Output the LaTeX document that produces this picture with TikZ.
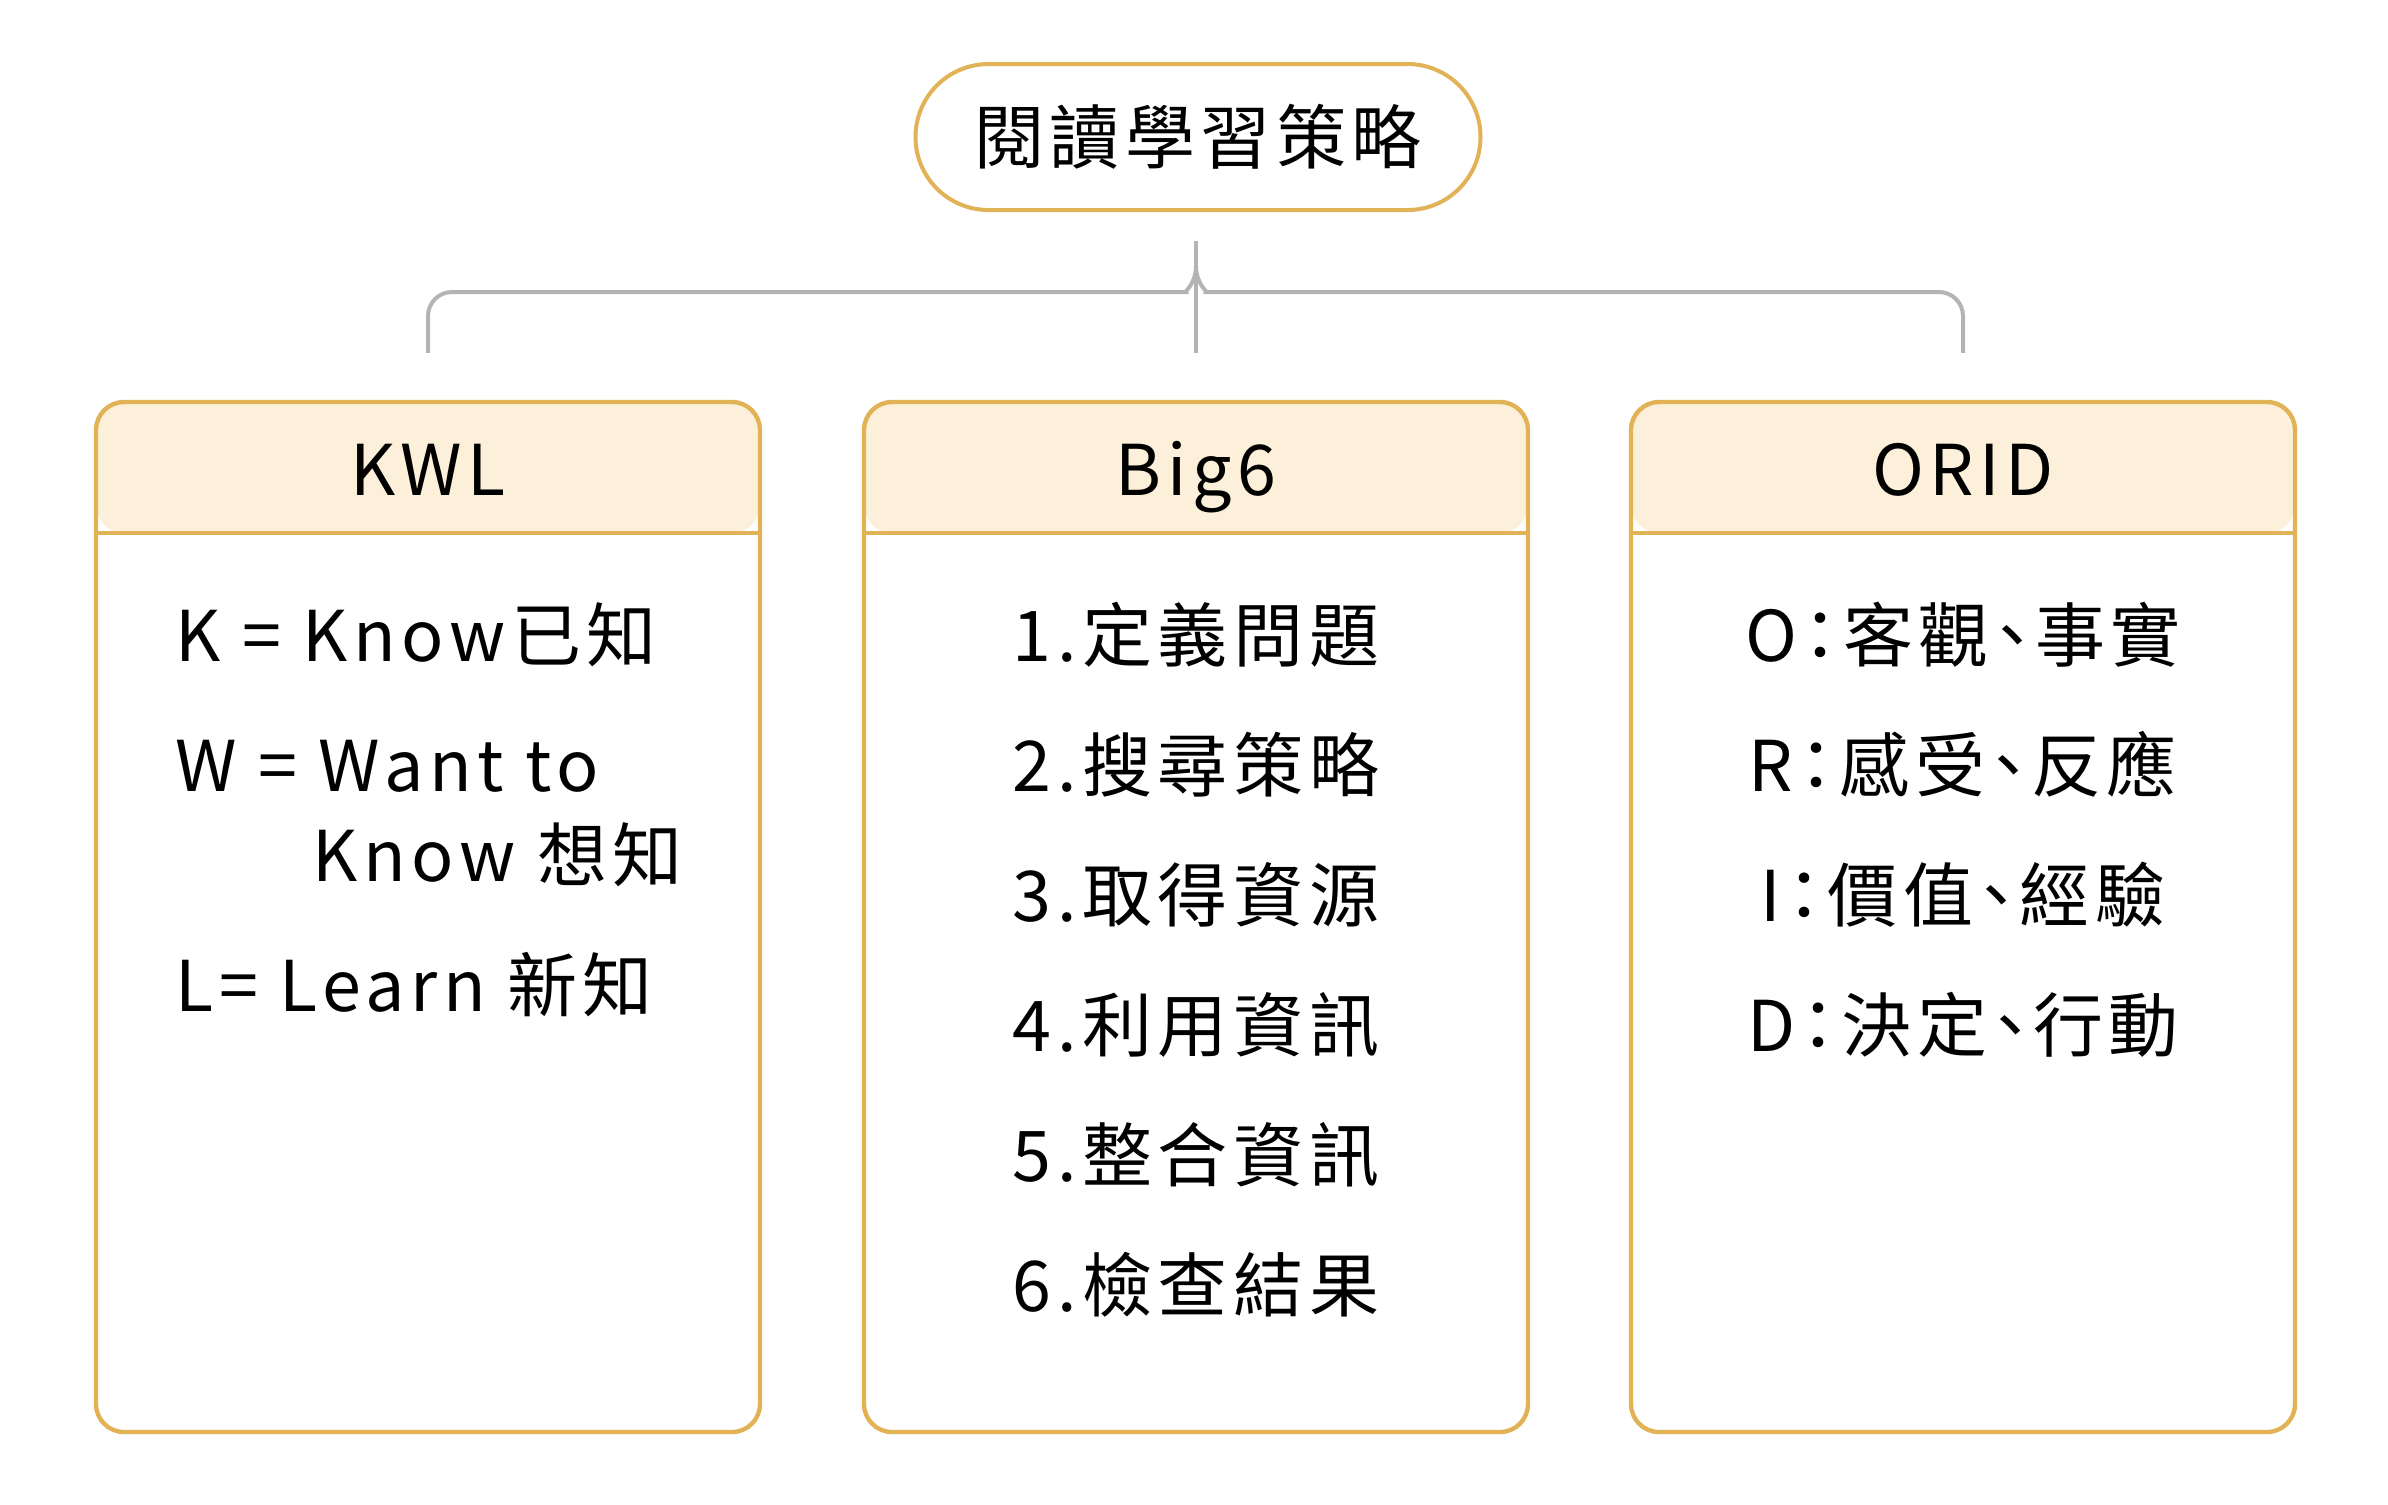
\documentclass[tikz,border=0pt]{standalone}
\usepackage{fontspec}
\setmainfont{Noto Sans CJK TC}[LetterSpace=8]
\newfontfamily\halffont{Noto Sans CJK TC}[LetterSpace=8, RawFeature=+halt]
\usetikzlibrary{calc}
\definecolor{gold}{HTML}{E2B257}
\definecolor{hdrfill}{HTML}{FDF0DA}
\definecolor{conn}{HTML}{B4B4B4}
\begin{document}
\begin{tikzpicture}[x=1pt,y=-1pt,
  txt/.style={font=\fontsize{17.5pt}{20pt}\selectfont, inner sep=0pt},
  htxt/.style={font=\fontsize{17.5pt}{20pt}\halffont, inner sep=0pt},
  pill/.style={draw=gold, line width=1pt, rounded corners=18.25pt,
    minimum width=141.25pt, minimum height=36.5pt, inner sep=0pt},
  panel/.style={draw=gold, line width=1.1pt, rounded corners=7pt,
    minimum width=166pt, minimum height=257.5pt, inner sep=0pt,
    path picture={
      \fill[hdrfill] (path picture bounding box.north west) rectangle
        ([yshift=-32.75pt]path picture bounding box.north east);
      \draw[gold, line width=1.1pt]
        ([yshift=-32.75pt]path picture bounding box.north west) --
        ([yshift=-32.75pt]path picture bounding box.north east);
    }},
  link/.style={draw=conn, line width=1pt}]
\useasboundingbox (0,0) rectangle (597,376);

\node[pill, txt] (title) at (299.5,34.25) {閱讀學習策略};

\node[panel] (kwl) at (107,229.25) {};
\node[panel] (big) at (299,229.25) {};
\node[panel] (orid) at (490.75,229.25) {};

\node[txt, anchor=base] (kwlh) at ($(kwl.north)+(0,23.8)$) {KWL};
\node[txt, anchor=base] (bigh) at ($(big.north)+(0,23.8)$) {Big6};
\node[txt, anchor=base] (oridh) at ($(orid.north)+(0,23.8)$) {ORID};

% connectors
\coordinate (stemtop) at ($(title.south -| big.north)+(0,7.25)$);
\coordinate (hub) at ($(stemtop)+(0,12.75)$);
\draw[link] (stemtop) -- ($(big.north)+(0,-11.75)$);
\draw[link] ($(kwl.north)+(0,-11.75)$) [rounded corners=6pt] |- ($(hub)+(-8.5,0)$)
  [sharp corners] .. controls ($(hub)+(-3,0)$) and ($(hub)+(0,-2)$) .. ($(hub)+(0,-6.5)$);
\draw[link] ($(orid.north)+(0,-11.75)$) [rounded corners=6pt] |- ($(hub)+(8.5,0)$)
  [sharp corners] .. controls ($(hub)+(3,0)$) and ($(hub)+(0,-2)$) .. ($(hub)+(0,-6.5)$);

% KWL body
\node[txt, anchor=base west] (k1) at (43.75,165.4) {K = Know已知};
\node[txt, anchor=base west] (k2) at (43.75,197.9) {W = Want to};
\node[txt, anchor=base west] (k3) at (78,220.4) {Know 想知};
\node[txt, anchor=base west] (k4) at (43.75,252.9) {L= Learn 新知};

% Big6 body
\node[txt, anchor=base] (b1) at (299,165.4) {1.定義問題};
\node[txt, anchor=base] (b2) at (299,197.9) {2.搜尋策略};
\node[txt, anchor=base] (b3) at (299,230.4) {3.取得資源};
\node[txt, anchor=base] (b4) at (299,262.9) {4.利用資訊};
\node[txt, anchor=base] (b5) at (299,295.4) {5.整合資訊};
\node[txt, anchor=base] (b6) at (299,327.9) {6.檢查結果};

% ORID body
\node[htxt, anchor=base] (o1) at (490.75,165.4) {O：客觀、事實};
\node[htxt, anchor=base] (o2) at (490.75,197.9) {R：感受、反應};
\node[htxt, anchor=base] (o3) at (490.75,230.4) {I：價值、經驗};
\node[htxt, anchor=base] (o4) at (490.75,262.9) {D：決定、行動};
\end{tikzpicture}
\end{document}
